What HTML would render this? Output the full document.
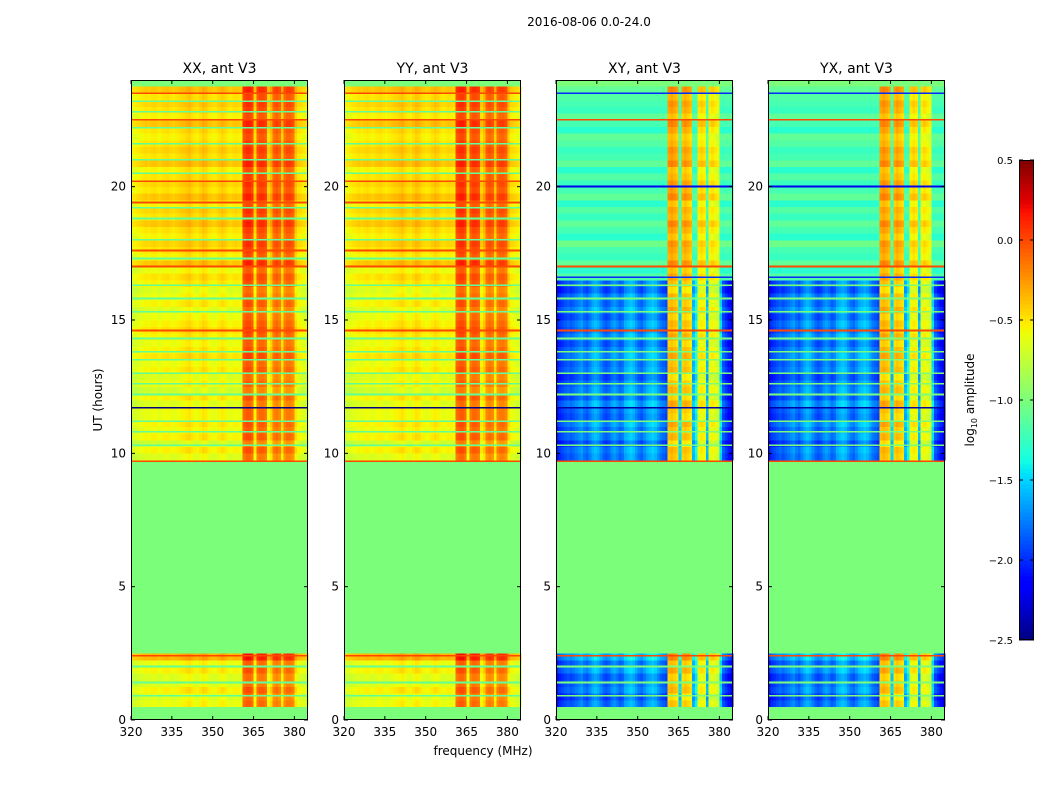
<!DOCTYPE html>
<html><head><meta charset="utf-8">
<style>
body{margin:0;background:#fff;font-family:"DejaVu Sans","Liberation Sans",sans-serif;}
svg text{font-family:"DejaVu Sans","Liberation Sans",sans-serif;}
</style></head>
<body>
<svg id="fig" width="1050" height="800" xmlns="http://www.w3.org/2000/svg">
<rect width="1050" height="800" fill="#fff"/>
<text x="589" y="26" font-size="12" text-anchor="middle">2016-08-06 0.0-24.0</text>
<text x="483" y="755" font-size="12" text-anchor="middle">frequency (MHz)</text>
<text transform="translate(102,400) rotate(-90)" font-size="12" text-anchor="middle">UT (hours)</text>
<text transform="translate(974,400) rotate(-90)" font-size="12" text-anchor="middle">log<tspan font-size="8" dy="3">10</tspan><tspan dy="-3"> amplitude</tspan></text>
<g id="panels"></g>
<g id="cbar"></g>
</svg>
<script>
const FREQS_START = 320, FREQ_BINS = 65; // 1 MHz bins 320..385
const TIME_BIN = 0.25;
const PANEL_TITLES = ["XX, ant V3","YY, ant V3","XY, ant V3","YX, ant V3"];
const X_TICKS = [320,335,350,365,380];
const Y_TICKS = [0,5,10,15,20];
const CBAR_TICKS = [0.5,0.0,-0.5,-1.0,-1.5,-2.0,-2.5];
const PAR_COL = [-0.65,-0.63,-0.61,-0.59,-0.57,
 -0.55,-0.57,-0.55,-0.53,-0.55,-0.57,-0.55,-0.53,-0.52,-0.55,-0.57,-0.55,-0.53,-0.51,-0.5,
 -0.47,-0.45,-0.5,-0.53,-0.55,-0.5,-0.45,-0.47,-0.53,-0.55,-0.57,-0.55,-0.51,-0.47,-0.5,-0.55,-0.57,-0.55,-0.53,-0.55,-0.57,
 -0.05,0.0,0.0,-0.05,
 -0.5,
 -0.1,-0.05,-0.05,-0.1,
 -0.5,-0.4,
 -0.15,-0.1,-0.15,
 -0.45,
 -0.15,-0.1,-0.1,-0.15,
 -0.45,-0.55,-0.57,-0.6,-0.63];
const CRS_COL = [-2.1,-2.0,-1.95,-1.9,-1.85,
 -1.9,-1.85,-1.8,-1.75,-1.7,-1.8,-1.85,-1.75,-1.65,-1.6,-1.65,-1.75,-1.85,-1.9,-1.85,
 -1.75,-1.7,-1.75,-1.85,-1.8,-1.65,-1.6,-1.55,-1.6,-1.7,-1.8,-1.85,-1.75,-1.65,-1.6,-1.55,-1.6,-1.7,-1.8,-1.85,-1.9,
 -0.4,-0.35,-0.4,-0.45,
 -1.5,
 -0.45,-0.4,-0.45,-0.5,
 -1.6,-1.4,
 -0.6,-0.55,-0.6,
 -1.6,
 -0.65,-0.6,-0.65,-0.7,
 -1.5,-1.9,-2.0,-2.1,-2.2];
const N = null;
const PAR_ROW = [N,N,
 -0.05,-0.1,0,-0.1,-0.1,0,-0.05,0.2,
 N,N,N,N,N,N,N,N,N,N,N,N,N,N,N,N,N,N,N,N,N,N,N,N,N,N,N,N,N,
 -0.1,0,-0.15,0,-0.05,0,-0.05,
 -0.05,-0.1,0,-0.15,-0.05,-0.1,0,-0.05,0.05,0,-0.05,0,0.05,0,-0.05,-0.1,0,-0.05,-0.1,0,
 0.05,-0.05,0.15,0,0.05,0.1,0,0.05,0.15,0.05,0.1,0,0.15,0.05,0.1,0.05,0,0.15,0.05,0.1,0.05,0,0.05,0.15,0,0.05,0.1,0.05,
 0.15,N];
const CRS_ROW = [N,N,
 0,-0.1,0.05,0,-0.05,0.1,0,0.2,
 N,N,N,N,N,N,N,N,N,N,N,N,N,N,N,N,N,N,N,N,N,N,N,N,N,N,N,N,N,
 0,0.05,-0.1,0.05,0,0.1,-0.05,
 0,0.1,-0.05,0.05,0,-0.1,0.05,0,0.1,0.05,-0.05,0.1,0,0.05,-0.05,0.1,0,0.05,-0.1,0,
 0.1,0,0.2,0.05,0.1,0.15,0,0.1,0.2,0.05,0.1,0,0.2,0.1,0.15,0.05,0,0.2,0.1,0.15,0.05,0,0.1,0.2,0,0.1,0.15,0.05,
 0.2,N];
const CRS_FLOOR_START = 66;
const CRS_FLOOR = [-1.15,-1.3,-1.1,-1.25,-1.2,-1.05,-1.3,-1.2,-1.1,-1.25,-1.15,-1.3,-1.1,-1.2,-1.25,-1.15,-1.3,-1.1,-1.2,-1.25,-1.15,-1.1,-1.3,-1.2,-1.1,-1.25,-1.2,-1.15,-1.1];
const PAR_LINE_T = [0.9,1.4,2.0,2.4,9.7,10.3,10.8,11.2,11.7,12.2,12.6,13.0,13.5,13.8,14.3,14.6,15.3,15.8,16.3,17.0,17.3,17.6,18.0,18.8,19.2,19.4,20.2,20.5,21.0,21.6,22.2,22.5,22.8,23.2,23.5];
const PAR_LINE_V = [-1.1,-1.1,-1.1,0.0,0.0,-1.1,-1.1,-1.1,-2.6,-1.1,-1.1,-1.1,-1.1,-1.1,-1.1,0.0,-1.1,-1.1,-1.1,0.0,-1.1,0.0,-1.1,-1.1,-1.1,0.0,0.0,-1.1,-1.1,-1.1,-1.1,0.0,-1.1,-1.1,0.0];
const CRS_LINE_T = [0.9,1.4,2.0,2.4,9.7,10.3,10.8,11.2,11.7,12.2,12.6,13.0,13.5,13.8,14.3,14.6,15.3,15.8,16.3,16.6,17.0,20.0,22.5,23.5];
const CRS_LINE_V = [-1.0,-1.0,-1.0,0.0,0.0,-1.0,-1.0,-1.0,-2.4,-1.0,-1.0,-1.0,-1.0,-1.0,-1.0,0.0,-1.0,-1.0,-1.0,-2.0,0.0,-2.2,0.0,-2.0];

const PANEL_X = [131,344,556,768], PW = 177, PT = 80, PB = 720;
const VMIN=-2.5, VMAX=0.5;
function interp(pts,t){for(let i=1;i<pts.length;i++){if(t<=pts[i][0]){const a=pts[i-1],b=pts[i];return a[1]+(b[1]-a[1])*(t-a[0])/(b[0]-a[0]);}}return pts[pts.length-1][1];}
function jet(v){let t=(v-VMIN)/(VMAX-VMIN);t=Math.max(0,Math.min(1,t));
 const r=interp([[0,0],[0.35,0],[0.66,1],[0.89,1],[1,0.5]],t);
 const g=interp([[0,0],[0.125,0],[0.375,1],[0.64,1],[0.91,0],[1,0]],t);
 const b=interp([[0,0.5],[0.11,1],[0.34,1],[0.65,0],[1,0]],t);
 return `rgb(${Math.round(r*255)},${Math.round(g*255)},${Math.round(b*255)})`;}
function yScale(t){return PB-(t/24)*(PB-PT);}
function xScale(p,f){return PANEL_X[p]+(f-FREQS_START)/FREQ_BINS*PW;}
const NS="http://www.w3.org/2000/svg";
function mk(tag,attrs,parent){const e=document.createElementNS(NS,tag);for(const k in attrs)e.setAttribute(k,attrs[k]);parent.appendChild(e);return e;}
const panels=document.getElementById('panels');
for(let p=0;p<4;p++){
 const cross=p>=2;
 const COL=cross?CRS_COL:PAR_COL, ROW=cross?CRS_ROW:PAR_ROW;
 const g=mk('g',{},panels);
 
 
 const bg=mk('rect',{x:PANEL_X[p],y:PT,width:PW,height:PB-PT,fill:jet(-1.0)},g);
 
 
 const hm=mk('g',{'shape-rendering':'crispEdges'},g);
 
 
 for(let r=0;r<ROW.length;r++){
  if(ROW[r]===null)continue;
  const y0=yScale((r+1)*TIME_BIN), y1=yScale(r*TIME_BIN);
  let floor=-9;
  if(cross&&r>=CRS_FLOOR_START&&r-CRS_FLOOR_START<CRS_FLOOR.length)floor=CRS_FLOOR[r-CRS_FLOOR_START];
  for(let c=0;c<COL.length;c++){
   let v=COL[c]+ROW[r];
   if(v<floor)v=floor;
   const x0=xScale(p,FREQS_START+c), x1=xScale(p,FREQS_START+c+1);
   const cell=mk('rect',{x:x0.toFixed(2),y:y0.toFixed(2),width:(x1-x0+0.4).toFixed(2),height:(y1-y0+0.4).toFixed(2),fill:jet(v)},hm);
   
   
  }
 }
 const LT=cross?CRS_LINE_T:PAR_LINE_T, LV=cross?CRS_LINE_V:PAR_LINE_V;
 for(let i=0;i<LT.length;i++){
  const y=yScale(LT[i]);
  const ln=mk('rect',{x:PANEL_X[p],y:(y-1).toFixed(2),width:PW,height:1.6,fill:jet(LV[i])},hm);
  
  
 }
 const fr=mk('rect',{x:PANEL_X[p]+0.5,y:PT+0.5,width:PW-1,height:PB-PT-1,fill:'none',stroke:'#000','stroke-width':1},g);
 
 
 const tt=mk('text',{x:PANEL_X[p]+PW/2,y:73,'font-size':14,'text-anchor':'middle'},g);
 tt.textContent=PANEL_TITLES[p];
 
 
 for(const f of X_TICKS){
  const x=xScale(p,f);
  mk('line',{x1:x,x2:x,y1:PB,y2:PB-4,stroke:'#000'},g);
  mk('line',{x1:x,x2:x,y1:PT,y2:PT+4,stroke:'#000'},g);
  const tl=mk('text',{x:x,y:PB+16,'font-size':12,'text-anchor':'middle'},g);
  tl.textContent=f;
  
  
 }
 for(const t of Y_TICKS){
  const y=yScale(t);
  mk('line',{x1:PANEL_X[p],x2:PANEL_X[p]+4,y1:y,y2:y,stroke:'#000'},g);
  mk('line',{x1:PANEL_X[p]+PW,x2:PANEL_X[p]+PW-4,y1:y,y2:y,stroke:'#000'},g);
  const tl=mk('text',{x:PANEL_X[p]-5,y:y+4,'font-size':12,'text-anchor':'end'},g);
  tl.textContent=t;
  
  
 }
}
// colorbar
const cb=document.getElementById('cbar');


const CBX=1019,CBW=15,CBT=160,CBB=640;
const steps=120;
for(let i=0;i<steps;i++){
 const v=VMIN+(VMAX-VMIN)*(i+0.5)/steps;
 const y=CBB-(i+1)*(CBB-CBT)/steps;
 const s=mk('rect',{x:CBX,y:y.toFixed(2),width:CBW,height:((CBB-CBT)/steps+0.5).toFixed(2),fill:jet(v),'shape-rendering':'crispEdges'},cb);
 
 
}
mk('rect',{x:CBX+0.5,y:CBT+0.5,width:CBW-1,height:CBB-CBT-1,fill:'none',stroke:'#000'},cb);
for(const v of CBAR_TICKS){
 const y=CBB-(v-VMIN)/(VMAX-VMIN)*(CBB-CBT);
 mk('line',{x1:CBX,x2:CBX+4,y1:y,y2:y,stroke:'#000'},cb);
 mk('line',{x1:CBX+CBW,x2:CBX+CBW-4,y1:y,y2:y,stroke:'#000'},cb);
 const tl=mk('text',{x:1013,y:y+4,'font-size':10,'text-anchor':'end'},cb);
 tl.textContent=(v<0?'\u2212':'')+Math.abs(v).toFixed(1);
 
 
}
</script>
</body></html>
